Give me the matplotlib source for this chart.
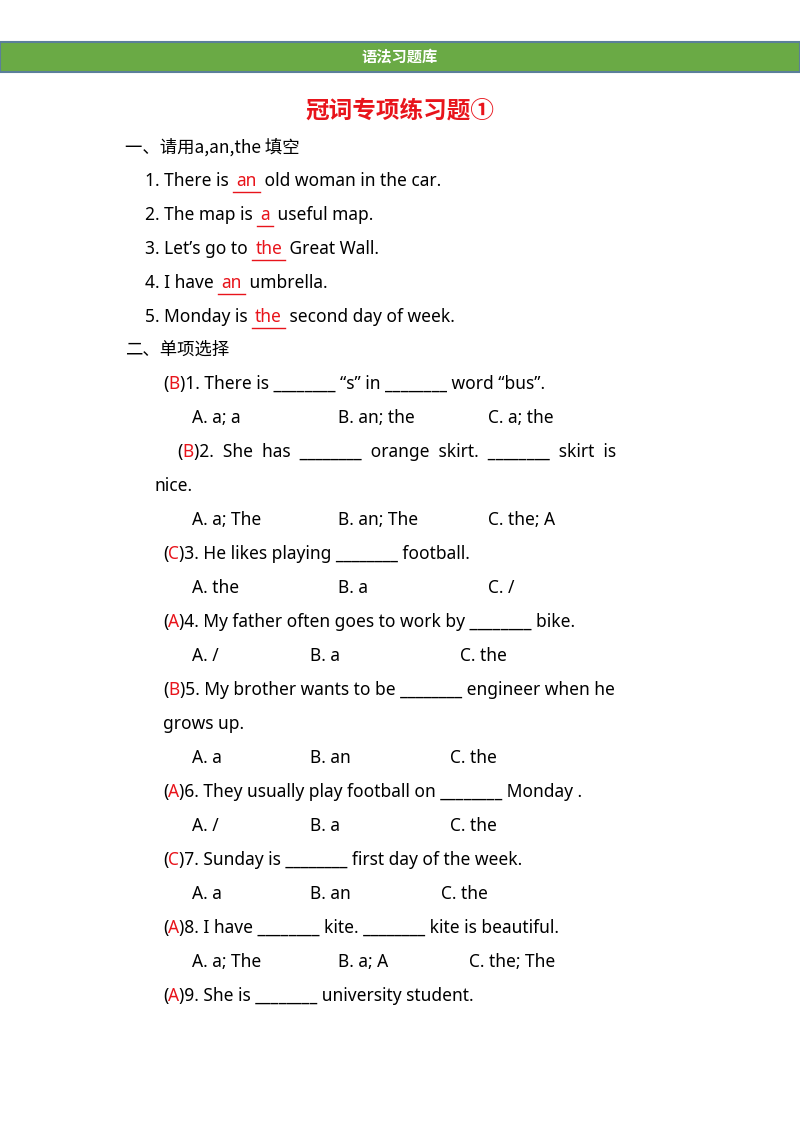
import matplotlib
matplotlib.use("Agg")
import matplotlib.pyplot as plt
from matplotlib.patches import Rectangle

plt.rcParams['font.family'] = ['Noto Sans', 'Noto Sans CJK SC', 'DejaVu Sans']

W, H = 800, 1132
RED = "#e8141b"
GREEN = "#6aaa45"
CJK = ['Noto Sans CJK SC', 'DejaVu Sans']

HEADER = "语法习题库"
TITLE = "冠词专项练习题①"
SECTION1 = "一、请用a,an,the 填空"
SECTION2 = "二、单项选择"

# fill-in: (prefix, answer, suffix)
FILL = [
    ("1. There is ", "an", " old woman in the car."),
    ("2. The map is ", "a", " useful map."),
    ("3. Let\u2019s go to ", "the", " Great Wall."),
    ("4. I have ", "an", " umbrella."),
    ("5. Monday is ", "the", " second day of week."),
]

B = "________"
# choice questions: (answer, question text, continuation line or None, options)
CHOICE = [
    ("B", f"1. There is {B} \u201cs\u201d in {B} word \u201cbus\u201d.", None,
     ["A. a; a", "B. an; the", "C. a; the"]),
    ("B", f"2.  She  has  {B}  orange  skirt.  {B}  skirt  is", "nice.",
     ["A. a; The", "B. an; The", "C. the; A"]),
    ("C", f"3. He likes playing {B} football.", None,
     ["A. the", "B. a", "C. /"]),
    ("A", f"4. My father often goes to work by {B} bike.", None,
     ["A. /", "B. a", "C. the"]),
    ("B", f"5. My brother wants to be {B} engineer when he", "grows up.",
     ["A. a", "B. an", "C. the"]),
    ("A", f"6. They usually play football on {B} Monday .", None,
     ["A. /", "B. a", "C. the"]),
    ("C", f"7. Sunday is {B} first day of the week.", None,
     ["A. a", "B. an", "C. the"]),
    ("A", f"8. I have {B} kite. {B} kite is beautiful.", None,
     ["A. a; The", "B. a; A", "C. the; The"]),
    ("A", f"9. She is {B} university student.", None, None),
]
OPT_X = [[192, 338, 488], [192, 338, 488], [192, 338, 488], [192, 310, 460],
         [192, 310, 450], [192, 310, 450], [192, 310, 441], [192, 338, 469]]

fig = plt.figure(figsize=(8, 11.32), dpi=100)
ax = fig.add_axes([0, 0, 1, 1])
ax.set_xlim(0, W)
ax.set_ylim(H, 0)
ax.axis("off")
fig.canvas.draw()
renderer = fig.canvas.get_renderer()
FS = 12.5


def draw_segments(x, y, segs, fs=FS):
    for txt, color, ul in segs:
        t = ax.text(x, y, txt, color=color, fontsize=fs, va="center", ha="left")
        w = t.get_window_extent(renderer).width  # pixels == data units here
        if ul:
            ax.plot([x - 3, x + w + 3], [y + 11, y + 11], color=color, lw=1)
        x += w
    return x


# header bar
ax.add_patch(Rectangle((0, 42), W, 30, color=GREEN, ec="#5b7f9a", lw=1.5))
ax.text(W / 2, 57, HEADER, color="white", fontsize=11, ha="center", va="center",
        fontweight="bold", family=CJK)
ax.text(W / 2, 111, TITLE, color=RED, fontsize=17, ha="center", va="center",
        fontweight="bold", family=CJK)

ax.text(125, 147, SECTION1, fontsize=FS, va="center", family=CJK)
y = 181
for pre, ans, suf in FILL:
    x = draw_segments(145, y, [(pre, "black", False)])
    x = draw_segments(x + 3, y, [(ans, RED, True)])
    draw_segments(x + 3, y, [(suf, "black", False)])
    y += 34

ax.text(125, 350, SECTION2, fontsize=FS, va="center", family=CJK)
y = 384
for i, (ans, q, cont, opts) in enumerate(CHOICE):
    qx = 177 if cont == "nice." else 163
    draw_segments(qx, y, [("(", "black", False), (ans, RED, False), (")" + q, "black", False)])
    if cont:
        y += 34
        ax.text(155 if cont == "nice." else 163, y, cont, fontsize=FS, va="center")
    if opts:
        y += 34
        for ox, o in zip(OPT_X[i], opts):
            ax.text(ox, y, o, fontsize=FS, va="center")
    y += 34

fig.savefig("out.png", dpi=100)
